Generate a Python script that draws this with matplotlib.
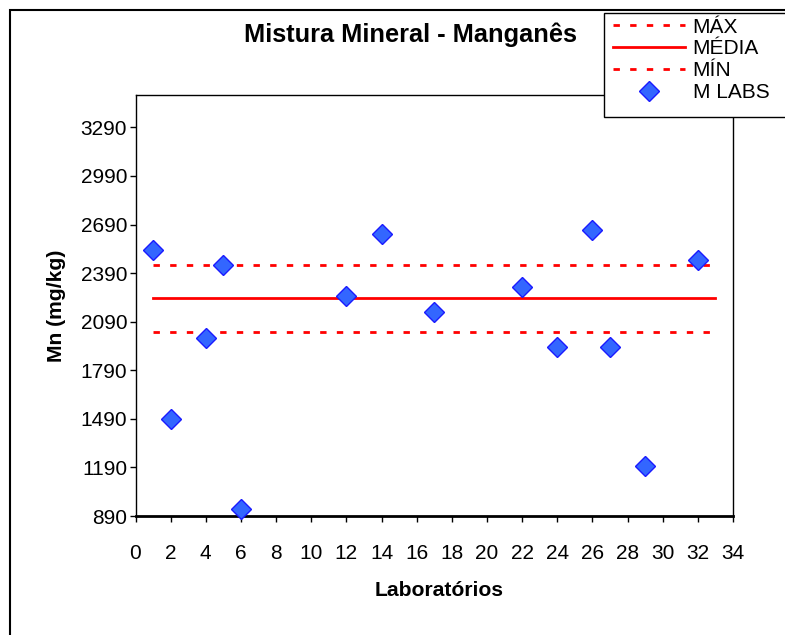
import numpy as np
import matplotlib.pyplot as plt
from matplotlib.patches import Rectangle

plt.rcParams['font.family'] = ['Liberation Sans', 'DejaVu Sans']

# data
labs = [1, 2, 4, 5, 6, 12, 14, 17, 22, 24, 26, 27, 29, 32]
mn_values = [2535, 1490, 1989, 2441, 931, 2251, 2632, 2148, 2306, 1933, 2655, 1933, 1197, 2469]
line_x = [1, 33]
v_max = 2441
v_media = 2234
v_min = 2026
yticks = [890, 1190, 1490, 1790, 2090, 2390, 2690, 2990, 3290]
xticks = list(range(0, 35, 2))

W, H = 785, 635
fig = plt.figure(figsize=(W / 100, H / 100), dpi=100)
ax = fig.add_axes([135.5 / W, 1 - 516 / H, (733 - 135.5) / W, (516 - 95) / H])

red = "#ff0000"
dash = (0, (2.3, 3.7))
ax.plot(line_x, [v_max, v_max], color=red, lw=2.0, ls=dash, dash_capstyle="butt", label="MÁX")
ax.plot(line_x, [v_media, v_media], color=red, lw=2.0, label="MÉDIA")
ax.plot(line_x, [v_min, v_min], color=red, lw=2.0, ls=dash, dash_capstyle="butt", label="MÍN")
ax.plot(labs, mn_values, ls="none", marker="D", ms=10, mfc="#3366ff", mec="#1a1aff",
        mew=1.0, label="M LABS", clip_on=False, zorder=5)

ax.set_xlim(0, 34)
ax.set_ylim(890, 3490)
ax.set_xticks(xticks)
ax.set_yticks(yticks)
ax.tick_params(direction="out", length=4, width=1, labelsize=15, pad=2)
ax.tick_params(axis="x", pad=16)
for s in ["top", "right", "left"]:
    ax.spines[s].set_linewidth(1)
ax.spines["bottom"].set_linewidth(2)

fig.text(410 / W, 1 - 35 / H, "Mistura Mineral - Manganês", ha="center", va="center",
         fontsize=18.3, fontweight="bold")
fig.text(57 / W, 1 - 306 / H, "Mn (mg/kg)", ha="center", va="center", rotation=90,
         fontsize=15.2, fontweight="bold")
fig.text(439 / W, 1 - 590 / H, "Laboratórios", ha="center", va="center",
         fontsize=15.2, fontweight="bold")

# outer chart border (runs off the right and bottom edges)
fig.patches.append(Rectangle((10 / W, -0.1), 1.2, 1 - 10 / H + 0.1, transform=fig.transFigure,
                             fill=False, ec="black", lw=1.5))
# legend box
fig.patches.append(Rectangle((604 / W, 1 - 117 / H), 1.0, (117 - 13) / H, transform=fig.transFigure,
                             fc="white", ec="black", lw=1, zorder=3))
leg = fig.legend(loc="upper left", bbox_to_anchor=(609 / W, 1 - 14 / H), frameon=False,
                 fontsize=15, handlelength=3.5, handletextpad=0.34, labelspacing=0.14,
                 borderaxespad=0, borderpad=0.17)
leg.set_zorder(4)

fig.savefig("out.png", dpi=100)
